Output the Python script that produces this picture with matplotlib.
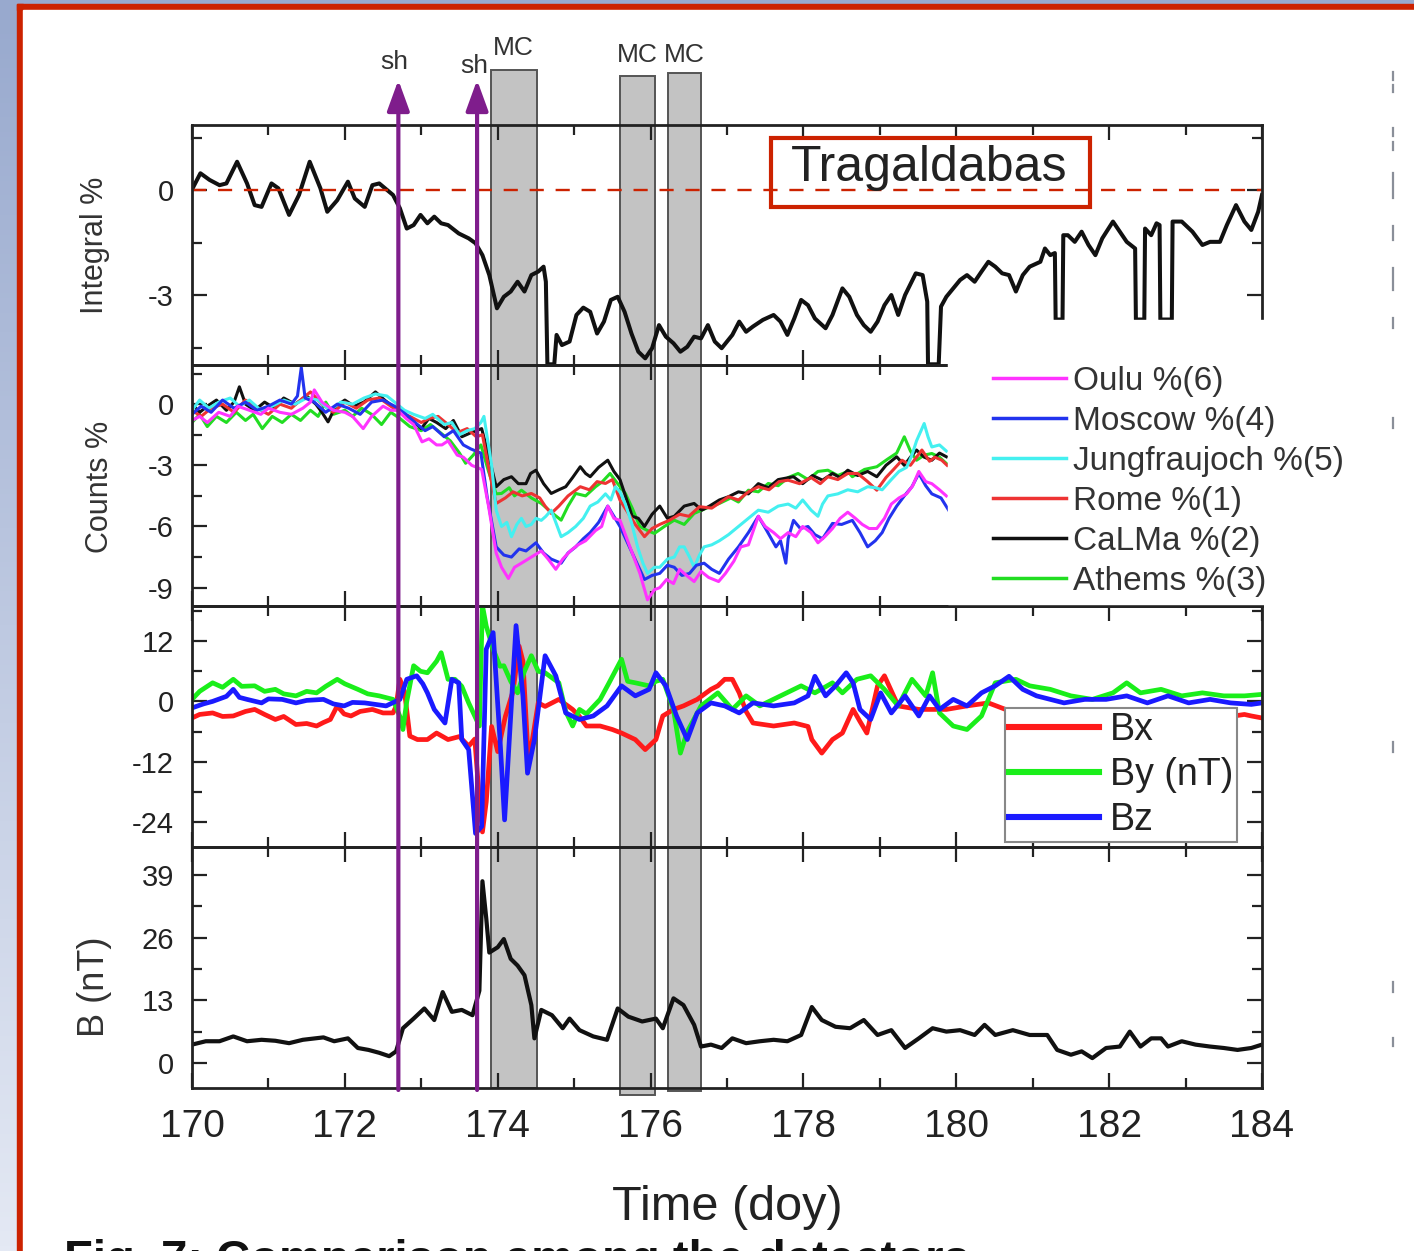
import numpy as np
import matplotlib.pyplot as plt
import matplotlib.transforms as mtransforms
from matplotlib.patches import Rectangle, FancyArrowPatch
from matplotlib.lines import Line2D
from matplotlib.ticker import MultipleLocator
from matplotlib.colors import LinearSegmentedColormap

plt.rcParams['font.family'] = ['Liberation Sans', 'DejaVu Sans']
plt.rcParams['axes.unicode_minus'] = False

# ---- data (day of year, value) ----
trag = [(170.02, 0.10), (170.11, 0.48), (170.23, 0.29), (170.36, 0.14), (170.45, 0.19), (170.59, 0.81),
        (170.72, 0.19), (170.82, -0.43), (170.91, -0.48), (171.04, 0.19), (171.13, 0.05), (171.27, -0.71),
        (171.40, -0.14), (171.54, 0.81), (171.68, 0.05), (171.77, -0.62), (171.90, -0.29), (172.04, 0.24),
        (172.13, -0.24), (172.26, -0.48), (172.36, 0.14), (172.45, 0.19), (172.58, -0.05), (172.63, -0.14),
        (172.72, -0.52), (172.81, -1.10), (172.90, -1.00), (172.99, -0.71), (173.08, -0.95), (173.17, -0.76),
        (173.26, -0.95), (173.35, -1.00), (173.49, -1.24), (173.62, -1.38), (173.71, -1.52), (173.80, -1.86),
        (173.89, -2.43), (173.99, -3.38), (174.08, -3.05), (174.17, -2.90), (174.26, -2.62), (174.35, -2.90),
        (174.44, -2.43), (174.53, -2.33), (174.60, -2.19), (174.63, -2.62), (174.65, -4.98), (174.74, -4.98),
        (174.77, -4.14), (174.84, -4.43), (174.94, -4.33), (175.03, -3.57), (175.12, -3.36), (175.21, -3.48),
        (175.30, -4.10), (175.39, -3.76), (175.48, -3.14), (175.57, -3.05), (175.66, -3.48), (175.75, -4.10),
        (175.84, -4.62), (175.93, -4.81), (176.02, -4.52), (176.11, -3.86), (176.20, -4.19), (176.30, -4.38),
        (176.39, -4.62), (176.48, -4.48), (176.57, -4.19), (176.66, -4.24), (176.75, -3.86), (176.84, -4.33),
        (176.93, -4.52), (177.07, -4.14), (177.16, -3.76), (177.25, -4.05), (177.34, -3.90), (177.47, -3.71),
        (177.61, -3.57), (177.70, -3.76), (177.79, -4.14), (177.88, -3.67), (177.97, -3.14), (178.06, -3.29),
        (178.15, -3.67), (178.29, -3.95), (178.38, -3.57), (178.51, -2.81), (178.60, -3.05), (178.70, -3.57),
        (178.79, -3.86), (178.88, -4.05), (178.97, -3.76), (179.06, -3.29), (179.15, -3.00), (179.24, -3.57),
        (179.33, -3.00), (179.47, -2.38), (179.56, -2.43), (179.62, -3.19), (179.63, -4.98), (179.77, -4.98),
        (179.80, -3.33), (179.87, -3.05), (179.96, -2.81), (180.05, -2.57), (180.14, -2.43), (180.24, -2.62),
        (180.33, -2.33), (180.42, -2.05), (180.51, -2.19), (180.60, -2.38), (180.69, -2.43), (180.78, -2.90),
        (180.87, -2.43), (180.96, -2.19), (181.10, -2.05), (181.16, -1.67), (181.23, -1.86), (181.29, -1.80),
        (181.30, -3.70), (181.39, -3.70), (181.40, -1.29), (181.46, -1.29), (181.55, -1.48), (181.64, -1.19),
        (181.73, -1.57), (181.82, -1.86), (181.91, -1.38), (182.05, -0.90), (182.14, -1.19), (182.23, -1.48),
        (182.34, -1.67), (182.35, -3.70), (182.46, -3.70), (182.47, -1.10), (182.55, -1.29), (182.62, -0.95),
        (182.66, -1.00), (182.67, -3.70), (182.82, -3.70), (182.83, -0.90), (182.95, -0.90), (183.09, -1.19),
        (183.22, -1.57), (183.32, -1.48), (183.45, -1.48), (183.54, -1.00), (183.66, -0.43), (183.77, -0.90),
        (183.86, -1.14), (183.95, -0.62), (184.00, -0.14)]

oulu = [(170.00, -0.8), (170.10, -0.6), (170.20, -0.9), (170.35, -0.4), (170.50, -0.6), (170.60, -0.1), (170.75, -0.3),
        (170.90, -0.5), (171.00, -0.2), (171.15, -0.4), (171.30, -0.5), (171.45, -0.2), (171.55, 0.1), (171.60, 0.7),
        (171.70, 0.1), (171.85, -0.3), (172.00, -0.4), (172.10, -0.6), (172.24, -1.2), (172.35, -0.6), (172.50, -0.1),
        (172.60, -0.3), (172.69, -0.3), (172.80, -0.7), (172.90, -1.0), (173.01, -1.85), (173.10, -1.7), (173.20, -2.0),
        (173.27, -2.0), (173.35, -1.8), (173.47, -2.5), (173.55, -2.6), (173.66, -3.0), (173.79, -3.2), (173.88, -5.0),
        (173.98, -7.3), (174.05, -8.0), (174.14, -8.55), (174.22, -8.0), (174.31, -7.8), (174.44, -7.5), (174.57, -7.2),
        (174.66, -7.6), (174.76, -8.1), (174.85, -7.6), (174.95, -7.2), (175.05, -6.9), (175.15, -6.7), (175.28, -6.2),
        (175.36, -6.0), (175.44, -5.0), (175.52, -5.6), (175.60, -5.7), (175.73, -7.0), (175.86, -8.3), (175.96, -9.6),
        (176.05, -9.1), (176.12, -9.0), (176.21, -8.6), (176.30, -8.8), (176.38, -8.1), (176.47, -8.4), (176.57, -8.7),
        (176.66, -8.2), (176.76, -8.5), (176.89, -8.7), (176.98, -8.3), (177.09, -7.7), (177.18, -7.0), (177.28, -6.9),
        (177.41, -5.5), (177.50, -6.0), (177.61, -6.3), (177.70, -6.6), (177.80, -6.3), (177.90, -6.5), (177.99, -6.0),
        (178.10, -6.3), (178.19, -6.8), (178.28, -6.5), (178.38, -6.1), (178.48, -5.6), (178.58, -5.3), (178.68, -5.6),
        (178.77, -5.9), (178.86, -6.1), (178.96, -6.1), (179.06, -5.6), (179.15, -4.9), (179.25, -4.6), (179.35, -4.4),
        (179.43, -4.0), (179.51, -3.3), (179.60, -3.8), (179.68, -3.9), (179.78, -4.2), (179.87, -4.5)]

moscow = [(170.00, -0.5), (170.12, -0.1), (170.25, -0.4), (170.40, 0.2), (170.55, -0.2), (170.70, 0.1), (170.85, -0.3),
          (171.00, -0.1), (171.15, 0.2), (171.30, 0.0), (171.38, 0.4), (171.43, 1.8), (171.48, 0.3), (171.60, 0.1),
          (171.75, -0.4), (171.90, 0.0), (172.05, -0.2), (172.20, -0.5), (172.35, 0.1), (172.50, 0.2), (172.65, -0.1),
          (172.80, -0.5), (172.95, -1.0), (173.05, -1.3), (173.15, -1.1), (173.30, -1.6), (173.42, -1.3), (173.55, -2.0),
          (173.65, -2.2), (173.78, -2.4), (173.86, -4.5), (173.98, -7.0), (174.08, -7.4), (174.18, -7.5), (174.28, -7.1),
          (174.37, -7.2), (174.50, -6.8), (174.60, -7.3), (174.70, -7.6), (174.83, -7.8), (174.92, -7.3), (175.02, -7.0),
          (175.12, -6.6), (175.21, -6.3), (175.32, -5.8), (175.44, -5.0), (175.52, -5.5), (175.60, -6.0), (175.76, -7.3),
          (175.92, -8.6), (176.02, -8.4), (176.12, -8.3), (176.22, -7.9), (176.31, -8.0), (176.41, -8.4), (176.51, -8.3),
          (176.60, -7.9), (176.70, -7.8), (176.80, -8.1), (176.90, -8.3), (177.02, -7.6), (177.15, -7.0), (177.28, -6.3),
          (177.41, -5.5), (177.52, -6.2), (177.64, -7.0), (177.70, -6.7), (177.77, -7.8), (177.80, -6.6), (177.87, -5.7),
          (177.96, -6.1), (178.06, -6.0), (178.15, -6.4), (178.25, -6.6), (178.32, -6.2), (178.38, -5.85), (178.50, -5.9),
          (178.64, -5.7), (178.74, -6.3), (178.84, -7.0), (178.94, -6.7), (179.03, -6.3), (179.12, -5.6), (179.22, -5.0),
          (179.32, -4.5), (179.42, -4.05), (179.51, -3.4), (179.60, -4.0), (179.68, -4.4), (179.80, -4.6), (179.90, -5.2)]

jungfrau = [(170.00, -0.3), (170.10, 0.2), (170.22, -0.2), (170.35, 0.1), (170.50, 0.3), (170.62, -0.1), (170.75, 0.2),
            (170.90, -0.3), (171.05, -0.1), (171.20, 0.2), (171.35, 0.0), (171.50, 0.3), (171.65, 0.2), (171.80, -0.3),
            (171.95, 0.1), (172.10, 0.0), (172.25, 0.3), (172.40, 0.5), (172.55, 0.4), (172.65, 0.1), (172.78, -0.3),
            (172.90, -0.5), (173.05, -0.7), (173.15, -0.5), (173.30, -1.0), (173.40, -0.9), (173.50, -1.5), (173.60, -1.3),
            (173.70, -1.2), (173.78, -0.9), (173.82, -0.6), (173.87, -1.8), (173.92, -3.0), (173.98, -5.2), (174.05, -6.0),
            (174.12, -5.8), (174.18, -6.5), (174.25, -5.9), (174.31, -5.6), (174.37, -6.0), (174.44, -5.9), (174.50, -5.6),
            (174.57, -5.7), (174.63, -5.5), (174.70, -5.2), (174.77, -5.9), (174.83, -6.5), (174.92, -6.3), (175.02, -6.0),
            (175.12, -5.6), (175.21, -5.0), (175.31, -4.8), (175.41, -4.4), (175.48, -4.7), (175.54, -4.05), (175.60, -4.3),
            (175.67, -4.9), (175.75, -5.8), (175.83, -7.0), (175.90, -7.8), (175.96, -8.3), (176.05, -8.0), (176.12, -8.0),
            (176.22, -7.6), (176.31, -7.5), (176.38, -7.0), (176.44, -7.0), (176.51, -7.5), (176.57, -8.0), (176.64, -7.4),
            (176.70, -7.0), (176.80, -6.9), (176.90, -6.7), (177.02, -6.4), (177.15, -6.0), (177.28, -5.6), (177.41, -5.2),
            (177.54, -5.3), (177.67, -5.0), (177.80, -4.9), (177.90, -5.1), (177.99, -4.7), (178.10, -5.2), (178.19, -5.5),
            (178.25, -4.9), (178.32, -4.5), (178.45, -4.4), (178.58, -4.2), (178.71, -4.3), (178.84, -4.05), (178.94, -4.1),
            (179.03, -4.2), (179.15, -3.7), (179.25, -3.3), (179.35, -3.1), (179.42, -2.5), (179.48, -1.8), (179.58, -0.95),
            (179.63, -1.6), (179.68, -2.1), (179.78, -2.0), (179.87, -2.3)]

rome = [(170.00, -0.3), (170.12, -0.6), (170.25, -0.2), (170.40, 0.0), (170.55, -0.4), (170.70, 0.2), (170.85, -0.2),
        (171.00, -0.5), (171.15, 0.0), (171.30, -0.2), (171.45, 0.3), (171.55, 0.6), (171.70, 0.0), (171.85, -0.4),
        (172.00, 0.1), (172.15, -0.2), (172.30, 0.2), (172.45, 0.3), (172.60, -0.1), (172.72, -0.4), (172.85, -0.6),
        (173.00, -0.9), (173.10, -0.7), (173.22, -0.6), (173.35, -1.0), (173.47, -1.4), (173.60, -1.2), (173.72, -1.6),
        (173.80, -1.5), (173.90, -3.5), (173.98, -4.87), (174.10, -4.6), (174.20, -4.3), (174.32, -4.5), (174.44, -4.38),
        (174.55, -4.6), (174.62, -5.0), (174.70, -5.36), (174.80, -5.0), (174.92, -4.5), (175.08, -4.05), (175.20, -4.2),
        (175.30, -3.8), (175.41, -3.89), (175.50, -3.7), (175.60, -4.71), (175.70, -5.3), (175.80, -5.9), (175.92, -6.5),
        (176.02, -6.1), (176.12, -5.9), (176.25, -5.69), (176.38, -5.4), (176.50, -5.5), (176.64, -5.03), (176.80, -5.1),
        (177.02, -4.54), (177.15, -4.7), (177.28, -4.3), (177.41, -4.05), (177.55, -4.2), (177.68, -3.8), (177.80, -3.73),
        (177.95, -3.9), (178.10, -3.6), (178.22, -3.9), (178.32, -3.56), (178.45, -3.7), (178.58, -3.4), (178.71, -3.40),
        (178.84, -3.8), (178.96, -4.22), (179.08, -3.6), (179.18, -3.2), (179.29, -2.75), (179.40, -3.0), (179.55, -2.25),
        (179.65, -2.8), (179.72, -2.6), (179.81, -2.75), (179.88, -3.0)]

calma = [(170.00, 0.0), (170.10, -0.4), (170.20, -0.1), (170.32, 0.2), (170.45, -0.3), (170.55, 0.1), (170.62, 0.85),
         (170.70, 0.0), (170.82, -0.3), (170.95, 0.1), (171.08, -0.2), (171.20, 0.3), (171.35, 0.0), (171.50, 0.4),
         (171.62, 0.0), (171.70, -0.4), (171.78, -0.87), (171.88, -0.1), (172.00, 0.2), (172.12, -0.1), (172.25, 0.1),
         (172.40, 0.6), (172.52, 0.2), (172.62, -0.1), (172.75, -0.4), (172.88, -0.8), (173.00, -1.2), (173.10, -0.7),
         (173.20, -0.9), (173.32, -1.2), (173.42, -0.8), (173.53, -1.6), (173.65, -1.4), (173.79, -1.2), (173.88, -2.5),
         (173.98, -4.05), (174.08, -3.7), (174.18, -3.56), (174.27, -3.9), (174.37, -3.9), (174.43, -3.4), (174.50, -3.24),
         (174.60, -3.9), (174.70, -4.38), (174.80, -4.2), (174.89, -4.05), (174.98, -3.6), (175.08, -3.07), (175.15, -3.4),
         (175.21, -3.56), (175.32, -3.1), (175.44, -2.75), (175.52, -3.3), (175.60, -3.7), (175.68, -4.6), (175.76, -5.5),
         (175.84, -5.6), (175.92, -6.0), (176.02, -5.4), (176.12, -5.0), (176.22, -5.6), (176.31, -5.5), (176.44, -5.0),
         (176.57, -4.87), (176.67, -5.2), (176.77, -5.0), (176.90, -4.7), (177.02, -4.54), (177.15, -4.3), (177.28, -4.4),
         (177.41, -3.9), (177.54, -4.1), (177.67, -3.7), (177.87, -3.56), (177.99, -3.9), (178.12, -3.5), (178.25, -3.73),
         (178.38, -3.4), (178.48, -3.6), (178.58, -3.24), (178.71, -3.5), (178.84, -3.3), (178.96, -3.56), (179.08, -3.0),
         (179.22, -2.58), (179.32, -3.0), (179.40, -2.6), (179.48, -2.25), (179.58, -2.6), (179.68, -2.75), (179.78, -2.4),
         (179.87, -2.58)]

athens = [(170.00, -0.9), (170.10, -0.5), (170.20, -1.1), (170.32, -0.6), (170.45, -0.9), (170.58, -0.4), (170.70, -0.8),
          (170.80, -0.5), (170.92, -1.2), (171.05, -0.6), (171.18, -0.9), (171.30, -0.5), (171.42, -0.8), (171.55, -0.3),
          (171.65, -0.6), (171.75, 0.1), (171.85, -0.5), (172.00, -0.3), (172.10, -0.6), (172.22, -0.2), (172.35, -0.5),
          (172.48, -1.0), (172.60, -0.4), (172.72, -0.7), (172.85, -1.1), (173.00, -1.3), (173.12, -1.0), (173.25, -1.4),
          (173.38, -1.8), (173.50, -2.4), (173.58, -2.9), (173.68, -2.5), (173.78, -2.0), (173.88, -3.3), (173.98, -4.4),
          (174.05, -4.38), (174.15, -4.1), (174.22, -4.5), (174.31, -4.22), (174.44, -4.6), (174.57, -4.87), (174.70, -5.3),
          (174.83, -5.69), (174.92, -5.0), (175.02, -4.38), (175.15, -4.5), (175.28, -4.05), (175.37, -3.8), (175.47, -3.40),
          (175.57, -3.9), (175.67, -4.38), (175.76, -5.1), (175.86, -6.0), (175.96, -6.2), (176.05, -6.34), (176.18, -6.0),
          (176.31, -5.69), (176.44, -5.9), (176.57, -5.36), (176.73, -5.1), (176.90, -4.87), (177.05, -4.6), (177.15, -4.8),
          (177.28, -4.22), (177.41, -4.3), (177.54, -3.89), (177.67, -4.0), (177.80, -3.6), (177.93, -3.40), (178.06, -3.7),
          (178.19, -3.3), (178.32, -3.24), (178.45, -3.5), (178.58, -3.3), (178.64, -3.56), (178.80, -3.2), (178.96, -3.07),
          (179.10, -2.7), (179.22, -2.4), (179.32, -1.6), (179.40, -2.3), (179.48, -2.75), (179.58, -2.5), (179.68, -2.42),
          (179.78, -2.6), (179.87, -2.91)]

bx = [(170.00, -3.3), (170.10, -2.6), (170.27, -2.3), (170.40, -3.0), (170.54, -2.9), (170.70, -2.0), (170.82, -1.6),
      (170.95, -2.6), (171.09, -3.6), (171.20, -3.0), (171.36, -4.6), (171.50, -4.4), (171.63, -4.9), (171.72, -4.2),
      (171.81, -3.6), (171.90, -0.9), (171.99, -2.5), (172.08, -2.9), (172.20, -2.0), (172.36, -1.6), (172.50, -2.3),
      (172.63, -2.3), (172.67, -1.0), (172.72, 4.4), (172.78, 2.0), (172.85, -6.9), (172.95, -7.6), (173.08, -7.6),
      (173.20, -6.3), (173.35, -7.6), (173.50, -7.0), (173.62, -8.9), (173.70, -7.5), (173.76, -19.6), (173.80, -26.0),
      (173.85, -20.0), (173.92, -5.0), (174.00, -10.0), (174.10, -3.0), (174.20, 2.0), (174.28, 11.0), (174.33, 8.0),
      (174.40, -11.6), (174.45, -8.0), (174.53, -0.3), (174.62, -1.0), (174.80, 0.4), (174.98, -1.6), (175.07, -3.0),
      (175.16, -4.9), (175.34, -4.9), (175.50, -5.6), (175.62, -6.3), (175.80, -7.6), (175.93, -9.6), (176.07, -7.6),
      (176.16, -2.9), (176.30, -1.6), (176.43, -0.9), (176.61, 0.4), (176.79, 2.4), (176.88, 3.1), (176.97, 4.4),
      (177.07, 4.4), (177.16, 1.7), (177.25, -2.0), (177.34, -4.3), (177.61, -4.9), (177.88, -4.3), (178.06, -5.0),
      (178.11, -7.6), (178.24, -10.3), (178.38, -7.6), (178.51, -6.3), (178.65, -1.6), (178.74, -4.0), (178.83, -6.3),
      (178.97, 3.1), (179.06, 5.1), (179.24, -0.9), (179.51, -1.6), (179.87, -1.6), (180.14, -0.9), (180.42, -0.3),
      (180.80, -2.5), (181.20, -3.0), (181.60, -2.0), (182.00, -3.5), (182.40, -2.0), (182.80, -3.0), (183.20, -2.5),
      (183.59, -3.0), (183.77, -2.6), (183.86, -2.9), (184.00, -3.3)]

by = [(170.00, 0.4), (170.10, 2.0), (170.27, 3.7), (170.40, 2.8), (170.54, 4.4), (170.65, 3.0), (170.82, 3.1),
      (170.95, 2.0), (171.09, 2.4), (171.20, 1.5), (171.36, 1.1), (171.50, 2.0), (171.63, 1.7), (171.75, 3.0),
      (171.90, 4.4), (172.00, 3.5), (172.17, 2.4), (172.30, 1.5), (172.45, 1.1), (172.63, 0.4), (172.72, -3.0),
      (172.76, -5.6), (172.81, 0.0), (172.90, 7.1), (172.99, 6.0), (173.08, 5.7), (173.20, 8.0), (173.26, 9.7),
      (173.35, 4.4), (173.44, 4.4), (173.53, 3.0), (173.62, -0.3), (173.76, -4.9), (173.80, 19.1), (173.85, 15.0),
      (173.94, 10.4), (174.03, 7.0), (174.08, 7.1), (174.17, 4.0), (174.26, 1.7), (174.35, 6.0), (174.44, 9.1),
      (174.53, 6.0), (174.62, 5.7), (174.80, 3.7), (174.89, -2.0), (174.98, -4.9), (175.07, -1.6), (175.16, -2.5),
      (175.34, 0.4), (175.45, 3.5), (175.62, 8.4), (175.70, 4.0), (175.80, 3.7), (175.98, 3.1), (176.07, 4.0),
      (176.16, 4.4), (176.30, -1.6), (176.39, -10.3), (176.48, -6.0), (176.52, -4.9), (176.66, -0.9), (176.88, 1.7),
      (177.07, -1.6), (177.25, 1.1), (177.43, -0.9), (177.70, 1.1), (177.97, 3.1), (178.15, 1.7), (178.38, 3.7),
      (178.51, 1.7), (178.70, 4.4), (178.88, 5.1), (179.06, 2.4), (179.24, -0.9), (179.42, 4.4), (179.60, 1.1),
      (179.69, 5.7), (179.78, -2.3), (179.96, -4.9), (180.14, -5.6), (180.33, -2.9), (180.51, 3.7), (180.78, 4.4),
      (180.96, 3.1), (181.23, 2.4), (181.50, 1.1), (181.78, 0.4), (182.05, 1.7), (182.23, 3.7), (182.41, 1.7),
      (182.68, 2.4), (182.95, 1.1), (183.22, 1.7), (183.50, 1.1), (183.77, 1.1), (184.00, 1.4)]

bz = [(170.00, -1.3), (170.15, -0.5), (170.27, 0.0), (170.45, 1.0), (170.54, 2.4), (170.62, 0.8), (170.72, 0.4),
      (170.91, -0.3), (171.00, 0.5), (171.18, 0.4), (171.36, -0.3), (171.50, 0.2), (171.72, 0.4), (171.85, -0.5),
      (171.99, -0.9), (172.10, -0.2), (172.26, -0.3), (172.40, -0.6), (172.54, -0.9), (172.72, 0.4), (172.81, 4.4),
      (172.94, 5.1), (173.02, 3.5), (173.08, 1.7), (173.17, -1.6), (173.31, -4.3), (173.40, 4.4), (173.49, 3.7),
      (173.53, -7.6), (173.62, -9.6), (173.71, -26.3), (173.79, -24.9), (173.85, 10.4), (173.94, 13.7), (174.03, -7.6),
      (174.09, -23.6), (174.17, -2.9), (174.24, 15.1), (174.33, 1.1), (174.39, -14.3), (174.48, -7.6), (174.62, 9.1),
      (174.76, 5.1), (174.89, -2.3), (175.07, -3.6), (175.25, -2.9), (175.43, -0.9), (175.62, 3.1), (175.80, 1.1),
      (175.98, 2.4), (176.07, 5.7), (176.20, 3.1), (176.34, -2.9), (176.48, -7.6), (176.61, -2.3), (176.79, -0.3),
      (176.97, -0.9), (177.16, -2.3), (177.34, -0.3), (177.61, -0.9), (177.88, -0.3), (178.06, 1.1), (178.15, 5.0),
      (178.29, 1.1), (178.42, 3.1), (178.56, 5.7), (178.65, 3.7), (178.74, -1.6), (178.88, -3.6), (179.01, 1.7),
      (179.15, -2.3), (179.33, 1.1), (179.51, -2.9), (179.65, 1.1), (179.78, -1.6), (179.96, 0.4), (180.14, -0.9),
      (180.33, 1.7), (180.51, 3.1), (180.69, 5.0), (180.87, 2.4), (181.05, 1.1), (181.23, 0.4), (181.41, -0.3),
      (181.68, 0.4), (181.96, 0.4), (182.23, 1.1), (182.50, -0.3), (182.77, 1.1), (183.04, -0.3), (183.32, 0.4),
      (183.59, -0.3), (183.86, -0.6), (184.00, -0.3)]

bmag = [(170.00, 3.8), (170.18, 4.5), (170.36, 4.5), (170.54, 5.5), (170.72, 4.5), (170.91, 4.8), (171.09, 4.6),
        (171.27, 4.1), (171.45, 4.8), (171.72, 5.3), (171.86, 4.5), (172.04, 5.1), (172.17, 3.1), (172.31, 2.7),
        (172.45, 2.1), (172.58, 1.4), (172.67, 2.4), (172.76, 7.2), (172.90, 9.2), (173.04, 11.3), (173.17, 8.9),
        (173.28, 14.7), (173.40, 10.6), (173.53, 11.0), (173.67, 9.9), (173.76, 15.0), (173.80, 37.7), (173.85, 30.0),
        (173.89, 22.9), (174.00, 24.0), (174.08, 25.7), (174.17, 21.6), (174.26, 20.2), (174.35, 18.2), (174.44, 12.0),
        (174.48, 5.1), (174.57, 11.0), (174.71, 9.9), (174.85, 7.2), (174.94, 9.2), (175.07, 6.8), (175.25, 5.5),
        (175.43, 4.8), (175.57, 11.3), (175.71, 9.6), (175.89, 8.6), (176.07, 9.2), (176.16, 7.2), (176.30, 13.4),
        (176.43, 12.0), (176.57, 7.9), (176.66, 3.4), (176.79, 3.8), (176.93, 3.1), (177.07, 5.1), (177.25, 4.1),
        (177.43, 4.5), (177.61, 4.8), (177.79, 4.5), (177.97, 5.8), (178.11, 11.6), (178.24, 8.9), (178.42, 7.5),
        (178.61, 7.2), (178.79, 8.9), (178.97, 5.8), (179.15, 6.8), (179.33, 3.1), (179.51, 5.1), (179.69, 7.2),
        (179.87, 6.5), (180.05, 6.8), (180.24, 5.8), (180.37, 7.9), (180.51, 5.8), (180.74, 6.8), (180.96, 5.8),
        (181.19, 5.8), (181.32, 2.7), (181.50, 1.7), (181.64, 2.4), (181.78, 1.0), (181.96, 3.1), (182.14, 3.4),
        (182.27, 6.5), (182.41, 3.4), (182.55, 5.1), (182.68, 5.1), (182.77, 3.4), (182.95, 4.5), (183.13, 3.8),
        (183.32, 3.4), (183.50, 3.1), (183.68, 2.7), (183.86, 3.1), (184.00, 3.8)]

mc_start = [173.91, 175.60, 176.23]
mc_end = [174.51, 176.06, 176.66]
shocks = [172.70, 173.73]

nm_labels = ['Oulu %(6)', 'Moscow %(4)', 'Jungfraujoch %(5)', 'Rome %(1)', 'CaLMa %(2)', 'Athems %(3)']
nm_data = [oulu, moscow, jungfrau, rome, calma, athens]
nm_colors = ['#ff33ff', '#2233ee', '#44f0f0', '#ee3333', '#111111', '#22dd22']
b_labels = ['Bx', 'By (nT)', 'Bz']
b_data = [bx, by, bz]
b_colors = ['#ff1a1a', '#1aee1a', '#1a1aff']

# ---- figure ----
W, H = 1414, 1251
fig = plt.figure(figsize=(W / 100, H / 100), dpi=100)


def fx(px):
    return px / W


def fy(py):
    return 1 - py / H


# slide background
bg = fig.add_axes([0, 0, 1, 1], zorder=-10)
grad = np.linspace(0, 1, 256)[:, None]
bg.imshow(grad, cmap=LinearSegmentedColormap.from_list('bgc', ['#98a9ce', '#e4e9f4']),
          extent=(0, W, H, 0), aspect='auto')
bg.add_patch(Rectangle((17, 4), W, 6, color='#cc2200'))
bg.add_patch(Rectangle((17, 4), 6, H, color='#cc2200'))
bg.add_patch(Rectangle((23, 10), W, H, color='white'))
for y0, y1 in [(72, 80), (85, 92), (128, 136), (142, 150), (173, 198), (226, 240), (268, 290),
               (318, 328), (418, 428), (742, 752), (982, 992), (1038, 1046)]:
    bg.plot([1393, 1393], [y0, y1], color='#8a8f99', lw=1.6)
bg.set_xlim(0, W)
bg.set_ylim(H, 0)
bg.axis('off')

rows = [(125, 365), (365, 606), (606, 847), (847, 1088)]
axs = []
for top, bot in rows:
    ax = fig.add_axes([fx(192), fy(bot), fx(1262) - fx(192), (bot - top) / H])
    ax.set_facecolor('none')
    axs.append(ax)
ax1, ax2, ax3, ax4 = axs

t, v = np.array(trag).T
ax1.plot(t, v, color='#111111', lw=2.9)
ax1.axhline(0, color='#cc2200', lw=1.7, ls=(0, (6, 5)))

for data, col in list(zip(nm_data, nm_colors))[::-1]:
    t, v = np.array(data).T
    ax2.plot(t, v, color=col, lw=2.2)

for data, col in zip(b_data, b_colors):
    t, v = np.array(data).T
    ax3.plot(t, v, color=col, lw=3.4)

t, v = np.array(bmag).T
ax4.plot(t, v, color='#111111', lw=3.0)

ylims = [(-5.0, 1.86), (-9.9, 1.92), (-29, 19), (-5.2, 44.8)]
majors = [3, 3, 12, 13]
minors = [1.5, 1.5, 6, 6.5]
for ax, yl, mj, mn in zip(axs, ylims, majors, minors):
    ax.set_xlim(170, 184)
    ax.set_ylim(*yl)
    ax.xaxis.set_major_locator(MultipleLocator(2))
    ax.xaxis.set_minor_locator(MultipleLocator(1))
    ax.yaxis.set_major_locator(MultipleLocator(mj))
    ax.yaxis.set_minor_locator(MultipleLocator(mn))
    ax.tick_params(which='both', direction='in', top=True, right=True, width=1.6, color='#222222')
    ax.tick_params(which='major', length=11)
    ax.tick_params(which='minor', length=7)
    ax.tick_params(axis='y', labelsize=21, pad=13, labelcolor='#222222')
    ax.tick_params(axis='x', labelsize=28, pad=15, labelcolor='#222222')
    for s in ax.spines.values():
        s.set_linewidth(2.0)
        s.set_color('#222222')
    if ax is not ax4:
        ax.tick_params(axis='x', labelbottom=False)
ax1.set_yticks([0, -3])
ax2.set_yticks([0, -3, -6, -9])
ax3.set_yticks([12, 0, -12, -24])
ax4.set_yticks([0, 13, 26, 39])

# shaded magnetic cloud intervals and shock arrows
trans = mtransforms.blended_transform_factory(ax4.transData, fig.transFigure)
mc_tops = [70, 76, 73]
mc_bots = [1088, 1095, 1091]
mc_label_y = [48, 55, 55]
for s, e, tp, bt, ly in zip(mc_start, mc_end, mc_tops, mc_bots, mc_label_y):
    fig.add_artist(Rectangle((s, fy(bt)), e - s, fy(tp) - fy(bt), transform=trans,
                             facecolor='#c3c3c3', edgecolor='#555555', lw=1.4, zorder=-1))
    fig.text(0, fy(ly), 'MC', transform=trans, fontsize=19, color='#333333',
             ha='center', va='center').set_x((s + e) / 2)

sh_label_y = [62, 66]
sh_dx = [-0.05, -0.03]
purple = '#7f1d8c'
for x, ly, dx in zip(shocks, sh_label_y, sh_dx):
    fig.add_artist(FancyArrowPatch((x, fy(1090)), (x, fy(80)), transform=trans,
                                   arrowstyle='-|>,head_length=0.55,head_width=0.2', mutation_scale=34,
                                   color=purple, lw=3.0, shrinkA=0, shrinkB=0, zorder=3))
    t_ = fig.text(0, fy(ly), 'sh', transform=trans, fontsize=19, color='#333333', ha='center', va='center')
    t_.set_x(x + dx)

# legend of panel 2 sits on a white patch that hides the lower right of panel 1
fig.add_artist(Rectangle((fx(948), fy(604)), fx(1362) - fx(948), fy(320) - fy(604),
                         transform=fig.transFigure, color='white', zorder=1))
h2 = [Line2D([], [], color=c, lw=2.5) for c in nm_colors]
leg2 = fig.legend(h2, nm_labels, loc='upper left', bbox_to_anchor=(fx(993), fy(366)), frameon=False,
                  fontsize=24, handlelength=2.2, handletextpad=0.2, labelspacing=0.27,
                  borderpad=0, borderaxespad=0)
leg2.set_zorder(2)
for tx in leg2.get_texts():
    tx.set_color('#333333')

h3 = [Line2D([], [], color=c, lw=4.4) for c in b_colors]
leg3 = ax3.legend(h3, b_labels, loc='lower right', bbox_to_anchor=(0.977, 0.02), borderaxespad=0,
                  fontsize=27, handlelength=2.4, handletextpad=0.3, labelspacing=0.25, borderpad=0.1,
                  fancybox=False, framealpha=1, edgecolor='#888888')
leg3.get_frame().set_linewidth(1.5)
for tx in leg3.get_texts():
    tx.set_color('#222222')

# titles and labels
fig.add_artist(Rectangle((fx(771), fy(207)), fx(1090) - fx(771), fy(138) - fy(207),
                         transform=fig.transFigure, fill=False, edgecolor='#cc2200', lw=3.0, zorder=3))
fig.text(fx(929), fy(168), 'Tragaldabas', fontsize=36, ha='center', va='center', color='#222222')

fig.text(fx(95), fy(245), 'Integral %', rotation=90, ha='center', va='center', fontsize=22, color='#333333')
fig.text(fx(100), fy(487), 'Counts %', rotation=90, ha='center', va='center', fontsize=22, color='#333333')
fig.text(fx(95), fy(987), 'B (nT)', rotation=90, ha='center', va='center', fontsize=26, color='#333333')
fig.text(fx(727), fy(1207), 'Time (doy)', ha='center', va='center', fontsize=35, color='#222222')
fig.text(fx(64), fy(1239), 'Fig. 7: Comparison among the detectors', ha='left', va='top',
         fontsize=34, fontweight='bold', color='#111111')

fig.savefig('out.png', dpi=100)
